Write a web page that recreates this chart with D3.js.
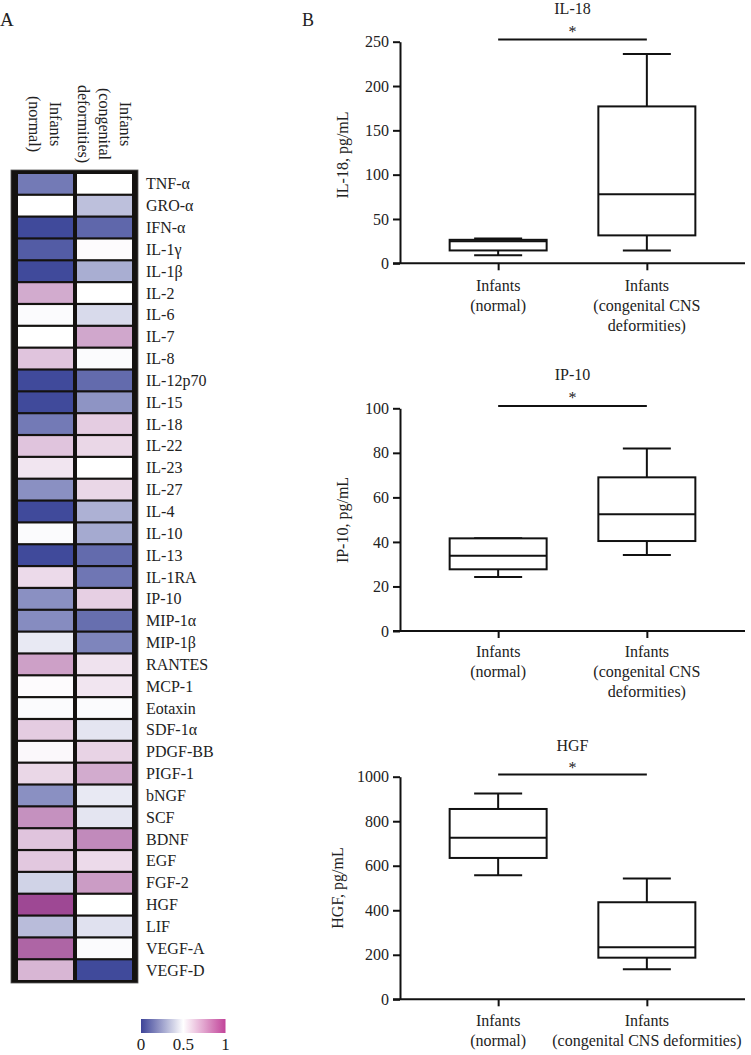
<!DOCTYPE html>
<html>
<head>
<meta charset="utf-8">
<script src="https://cdn.jsdelivr.net/npm/d3@7"></script>
<style>
  html, body { margin: 0; padding: 0; background: #fff; }
  svg { display: block; }
  text { font-family: "Liberation Serif", "Times New Roman", serif; fill: #222; }
</style>
</head>
<body>
<svg id="chart" width="751" height="1055"></svg>
<script>
// ---------------- DATA ----------------
const cytokines = ["TNF-α","GRO-α","IFN-α","IL-1γ","IL-1β","IL-2","IL-6","IL-7","IL-8","IL-12p70",
  "IL-15","IL-18","IL-22","IL-23","IL-27","IL-4","IL-10","IL-13","IL-1RA","IP-10",
  "MIP-1α","MIP-1β","RANTES","MCP-1","Eotaxin","SDF-1α","PDGF-BB","PIGF-1","bNGF","SCF",
  "BDNF","EGF","FGF-2","HGF","LIF","VEGF-A","VEGF-D"];
const heatColumns = ["normal", "congenital"];
const heatColumnLabels = [["Infants", "(normal)"], ["Infants", "(congenital", "deformities)"]];
const normalValues = [0.14,0.50,0.01,0.06,0.01,0.73,0.49,0.50,0.66,0.01,
  0.01,0.14,0.66,0.57,0.20,0.01,0.49,0.01,0.60,0.20,
  0.19,0.44,0.76,0.51,0.49,0.64,0.52,0.61,0.20,0.80,
  0.66,0.65,0.38,1.00,0.32,0.92,0.70];
const congenitalValues = [0.50,0.33,0.09,0.51,0.28,0.50,0.40,0.74,0.49,0.10,
  0.21,0.64,0.61,0.50,0.61,0.29,0.27,0.10,0.13,0.63,
  0.11,0.17,0.58,0.57,0.49,0.43,0.62,0.73,0.44,0.43,
  0.82,0.60,0.77,0.50,0.42,0.49,0.01];
const legendTicks = [0, 0.5, 1];

const groups = ["normal", "congenital"];
// [min, q1, median, q3, max]
const il18Stats = [[9, 14.5, 25, 26.5, 28], [14.5, 31.5, 78, 177, 236]];
const ip10Stats = [[24.2, 27.7, 33.8, 41.6, 41.6], [34.1, 40.4, 52.4, 69, 82]];
const hgfStats = [[557, 635, 726, 855, 925], [135, 187, 234, 436, 543]];
const il18Ticks = [0, 50, 100, 150, 200, 250];
const ip10Ticks = [0, 20, 40, 60, 80, 100];
const hgfTicks = [0, 200, 400, 600, 800, 1000];
const il18Sig = 252.5, ip10Sig = 101, hgfSig = 1010;
const xLabelsWrapped = [["Infants", "(normal)"], ["Infants", "(congenital CNS", "deformities)"]];
const xLabelsWide = [["Infants", "(normal)"], ["Infants", "(congenital CNS deformities)"]];

// ---------------- DRAW ----------------
const svg = d3.select("#chart");

// Panel letters
svg.append("text").attr("x", 0).attr("y", 26).attr("font-size", 19).text("A");
svg.append("text").attr("x", 302).attr("y", 26).attr("font-size", 18).text("B");

// Heatmap
const color = d3.scaleLinear().domain([0, 0.5, 1]).range(["#3c4699", "#ffffff", "#9e4894"]).clamp(true);
const yRow = d3.scaleBand().domain(cytokines).range([174, 980]).paddingInner(0.1).paddingOuter(0);
const xCol = d3.scaleBand().domain(heatColumns).range([18, 132]).paddingInner(0.068).paddingOuter(0);

svg.append("rect").attr("x", 11).attr("y", 170).attr("width", 127).attr("height", 813)
  .attr("fill", "#141210").attr("stroke", "#555").attr("stroke-width", 0.8);

const heatData = [];
cytokines.forEach((c, i) => {
  heatData.push({ c, col: "normal", v: normalValues[i] });
  heatData.push({ c, col: "congenital", v: congenitalValues[i] });
});
svg.append("g").selectAll("rect").data(heatData).join("rect")
  .attr("x", d => xCol(d.col)).attr("y", d => yRow(d.c))
  .attr("width", xCol.bandwidth()).attr("height", yRow.bandwidth())
  .attr("fill", d => color(d.v));

svg.append("g").selectAll("text").data(cytokines).join("text")
  .attr("x", 146).attr("y", d => yRow(d) + yRow.bandwidth() / 2 + 5.5)
  .attr("font-size", 16).text(d => d);

// Column headers (rotated, first line rightmost)
heatColumns.forEach((col, ci) => {
  const lines = heatColumnLabels[ci];
  const cx = xCol(col) + xCol.bandwidth() / 2;
  const n = lines.length;
  lines.forEach((ln, li) => {
    const bx = cx + (n - 1) * 10.5 - li * 21;
    svg.append("text")
      .attr("transform", `translate(${bx},124) rotate(90)`)
      .attr("text-anchor", "middle").attr("dy", "0.35em")
      .attr("font-size", 16).text(ln);
  });
});

// Legend
const defs = svg.append("defs");
const grad = defs.append("linearGradient").attr("id", "lg").attr("x1", "0%").attr("x2", "100%");
const legendColor = d3.scaleLinear().domain([0, 0.5, 1]).range(["#3d4398", "#ffffff", "#c2449a"]);
d3.range(0, 1.0001, 0.05).forEach(t => {
  grad.append("stop").attr("offset", (t * 100) + "%").attr("stop-color", legendColor(t));
});
const legX = d3.scaleLinear().domain([0, 1]).range([141, 225.5]);
svg.append("rect").attr("x", legX(0)).attr("y", 1019).attr("width", legX(1) - legX(0)).attr("height", 14)
  .attr("fill", "url(#lg)");
svg.append("g").selectAll("text").data(legendTicks).join("text")
  .attr("x", d => legX(d)).attr("y", 1050).attr("text-anchor", "middle")
  .attr("font-size", 17).text(d => d);

// Box plots
const panels = [
  { title: "IL-18", ylab: "IL-18, pg/mL", stats: il18Stats, ticks: il18Ticks, sig: il18Sig,
    yr: [263.3, 41.7], titleY: 14, starY: 37, labY: 291, labs: xLabelsWrapped, ylabX: 348, ylabY: 155 },
  { title: "IP-10", ylab: "IP-10, pg/mL", stats: ip10Stats, ticks: ip10Ticks, sig: ip10Sig,
    yr: [631, 408.3], titleY: 380, starY: 403, labY: 657, labs: xLabelsWrapped, ylabX: 348, ylabY: 520 },
  { title: "HGF", ylab: "HGF, pg/mL", stats: hgfStats, ticks: hgfTicks, sig: hgfSig,
    yr: [999.3, 776.7], titleY: 751, starY: 773, labY: 1026, labs: xLabelsWide, ylabX: 343, ylabY: 888 }
];

const x = d3.scalePoint().domain(groups).range([400, 745]).padding(0.66);
const boxW = 97, capW = 48;

panels.forEach(p => {
  const y = d3.scaleLinear().domain([0, p.ticks[p.ticks.length - 1]]).range(p.yr);
  const g = svg.append("g");

  // y axis
  const ya = g.append("g").attr("transform", "translate(400,0)")
    .call(d3.axisLeft(y).tickValues(p.ticks).tickFormat(d3.format("d"))
      .tickSize(7).tickPadding(4).tickSizeOuter(0));
  ya.attr("font-family", null);
  ya.select(".domain").attr("stroke", "#111").attr("stroke-width", 2);
  ya.selectAll(".tick line").attr("stroke", "#111").attr("stroke-width", 2);
  ya.selectAll(".tick text").attr("font-size", 16).attr("fill", "#222");

  // x axis
  const xa = g.append("g").attr("transform", `translate(0,${y(0)})`)
    .call(d3.axisBottom(x).tickSize(7).tickSizeOuter(0).tickFormat(""));
  xa.select(".domain").attr("stroke", "#111").attr("stroke-width", 2)
    .attr("d", `M393,0H745`);
  xa.selectAll(".tick line").attr("stroke", "#111").attr("stroke-width", 2);

  // x labels
  groups.forEach((gr, gi) => {
    p.labs[gi].forEach((ln, li) => {
      g.append("text").attr("x", x(gr)).attr("y", p.labY + li * 20)
        .attr("text-anchor", "middle").attr("font-size", 16).text(ln);
    });
  });

  // y label
  g.append("text").attr("transform", `translate(${p.ylabX},${p.ylabY}) rotate(-90)`)
    .attr("text-anchor", "middle").attr("font-size", 16).text(p.ylab);

  // title
  g.append("text").attr("x", (x(groups[0]) + x(groups[1])) / 2).attr("y", p.titleY)
    .attr("text-anchor", "middle").attr("font-size", 16).text(p.title);

  // significance
  g.append("line").attr("x1", x(groups[0])).attr("x2", x(groups[1]))
    .attr("y1", y(p.sig)).attr("y2", y(p.sig)).attr("stroke", "#111").attr("stroke-width", 2);
  g.append("text").attr("x", (x(groups[0]) + x(groups[1])) / 2).attr("y", p.starY)
    .attr("text-anchor", "middle").attr("font-size", 16).text("*");

  // boxes
  groups.forEach((gr, gi) => {
    const [mn, q1, md, q3, mx] = p.stats[gi];
    const cx = x(gr);
    const bg = g.append("g").attr("stroke", "#111").attr("stroke-width", 2).attr("fill", "none");
    bg.append("line").attr("x1", cx).attr("x2", cx).attr("y1", y(q3)).attr("y2", y(mx));
    bg.append("line").attr("x1", cx).attr("x2", cx).attr("y1", y(q1)).attr("y2", y(mn));
    bg.append("line").attr("x1", cx - capW / 2).attr("x2", cx + capW / 2).attr("y1", y(mx)).attr("y2", y(mx));
    bg.append("line").attr("x1", cx - capW / 2).attr("x2", cx + capW / 2).attr("y1", y(mn)).attr("y2", y(mn));
    bg.append("rect").attr("x", cx - boxW / 2).attr("y", y(q3)).attr("width", boxW)
      .attr("height", y(q1) - y(q3)).attr("fill", "#fff");
    bg.append("line").attr("x1", cx - boxW / 2).attr("x2", cx + boxW / 2).attr("y1", y(md)).attr("y2", y(md));
  });
});
</script>
</body>
</html>
